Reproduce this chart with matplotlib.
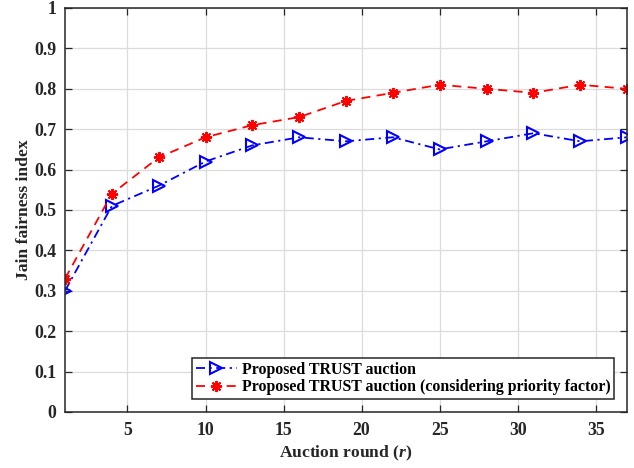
import matplotlib
matplotlib.use("Agg")
import matplotlib.pyplot as plt

rounds = [1, 4, 7, 10, 13, 16, 19, 22, 25, 28, 31, 34, 37]
trust = [0.30, 0.51, 0.56, 0.62, 0.66, 0.68, 0.67, 0.68, 0.65, 0.67, 0.69, 0.67, 0.68]
trust_priority = [0.33, 0.54, 0.63, 0.68, 0.71, 0.73, 0.77, 0.79, 0.81, 0.80, 0.79, 0.81, 0.80]
x_ticks = [5, 10, 15, 20, 25, 30, 35]
y_ticks = [0, 0.1, 0.2, 0.3, 0.4, 0.5, 0.6, 0.7, 0.8, 0.9, 1]
y_tick_labels = ["0", "0.1", "0.2", "0.3", "0.4", "0.5", "0.6", "0.7", "0.8", "0.9", "1"]

plt.rcParams.update({"font.family": "Liberation Serif", "font.weight": "bold", "font.size": 12,
                     "mathtext.fontset": "custom", "mathtext.it": "Liberation Serif:italic:bold",
                     "mathtext.rm": "Liberation Serif:bold"})

fig = plt.figure(figsize=(6.34, 4.68), dpi=100)
ax = fig.add_axes([65 / 634, 1 - 412 / 468, (627 - 65) / 634, (412 - 8) / 468])

ax.plot(rounds, trust, color="#0000FF", linestyle=(0, (5, 2.5, 1.2, 2.5)), linewidth=1.3, marker=">",
        markersize=8, markerfacecolor="none", markeredgewidth=1.5, label="Proposed TRUST auction")
ax.plot(rounds, trust_priority, color="#FF0000", linestyle=(0, (5, 3.5)), linewidth=1.3, marker=(8, 2, 0),
        markersize=8, markeredgewidth=1.4, label="Proposed TRUST auction (considering priority factor)")

ax.set_xlim(1, 37)
ax.set_ylim(0, 1)
ax.set_xticks(x_ticks)
ax.set_yticks(y_ticks, y_tick_labels)
ax.grid(True, color="#DCDCDC", linewidth=0.9)
ax.set_axisbelow(True)
ax.tick_params(direction="in", top=True, right=True, length=5, width=0.9, colors="#262626",
               labelsize=12.8)
ax.tick_params(axis="x", pad=7)
ax.tick_params(axis="y", pad=6)
for spine in ax.spines.values():
    spine.set_color("#262626")
    spine.set_linewidth(1.1)

ax.set_xlabel("Auction round ($\\it{r}$)", fontsize=12.6, fontweight="bold", labelpad=4, color="#262626")
ax.set_ylabel("Jain fairness index", fontsize=12.6, fontweight="bold", labelpad=2, color="#262626")

leg = ax.legend(loc="lower right", fontsize=11.4, frameon=True, fancybox=False, framealpha=1,
                edgecolor="#262626", borderpad=0.25, labelspacing=0.1, handlelength=2.6,
                handletextpad=0.3, borderaxespad=0.8)
leg.get_frame().set_linewidth(1.1)

fig.savefig("out.png", dpi=100)
